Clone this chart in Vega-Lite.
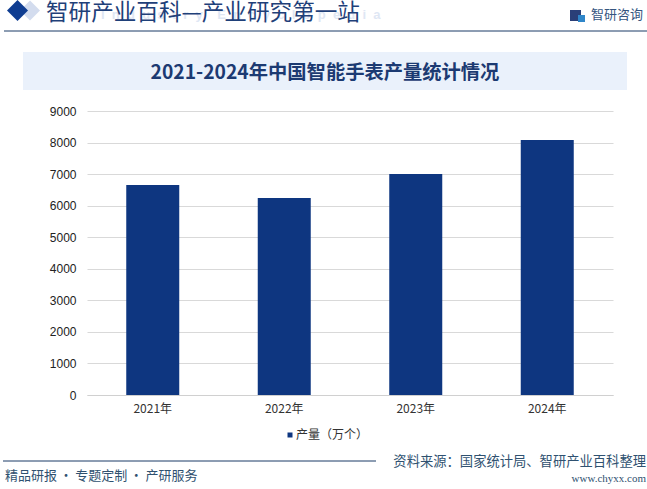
{
"$schema":"https://vega.github.io/schema/vega-lite/v6.json",
"width":526,"height":284,
"padding":{"left":87,"top":111,"right":34,"bottom":94},
"autosize":{"type":"none"},
"background":"white",
"config":{"view":{"stroke":null},"font":"Noto Sans CJK SC"},
"resolve":{"scale":{"x":"independent","y":"independent","color":"independent"}},
"layer":[
{"data":{"values":[{"item":"band"}]},"mark":{"type":"rect","color":"#eaf1fb"},
 "encoding":{"x":{"datum":23,"type":"quantitative","scale":{"domain":[87,613],"zero":false,"nice":false},"axis":null},"x2":{"datum":627},
 "y":{"datum":52,"type":"quantitative","scale":{"domain":[395,111],"zero":false,"nice":false},"axis":null},"y2":{"datum":90}}},
{"data":{"values":[{"item":"headerline"}]},"mark":{"type":"rule","color":"#1b3a66","strokeWidth":1},
 "encoding":{"x":{"datum":4,"type":"quantitative","scale":{"domain":[87,613],"zero":false,"nice":false},"axis":null},"x2":{"datum":647},
 "y":{"datum":31,"type":"quantitative","scale":{"domain":[395,111],"zero":false,"nice":false},"axis":null}}},
{"data":{"values":[{"item":"footerline"}]},"mark":{"type":"rule","color":"#1b3a66","strokeWidth":1},
 "encoding":{"x":{"datum":3,"type":"quantitative","scale":{"domain":[87,613],"zero":false,"nice":false},"axis":null},"x2":{"datum":376},
 "y":{"datum":461,"type":"quantitative","scale":{"domain":[395,111],"zero":false,"nice":false},"axis":null}}},
{"data":{"values":[{"item":"pale"}]},"mark":{"type":"point","shape":"diamond","filled":true,"size":400,"color":"#d3dcee","opacity":1},
 "encoding":{"x":{"datum":30,"type":"quantitative","scale":{"domain":[87,613],"zero":false,"nice":false},"axis":null},
 "y":{"datum":10.5,"type":"quantitative","scale":{"domain":[395,111],"zero":false,"nice":false},"axis":null}}},
{"data":{"values":[{"item":"dark"}]},"mark":{"type":"point","shape":"diamond","filled":true,"size":441,"color":"#0f3d91","opacity":1},
 "encoding":{"x":{"datum":17.5,"type":"quantitative","scale":{"domain":[87,613],"zero":false,"nice":false},"axis":null},
 "y":{"datum":10.5,"type":"quantitative","scale":{"domain":[395,111],"zero":false,"nice":false},"axis":null}}},
{"data":{"values":[{"label":"I\u00a0\u00a0n\u00a0\u00a0d\u00a0\u00a0u\u00a0\u00a0s\u00a0\u00a0t\u00a0\u00a0r\u00a0\u00a0y\u00a0\u00a0\u00a0\u00a0E\u00a0\u00a0n\u00a0\u00a0c\u00a0\u00a0y\u00a0\u00a0c\u00a0\u00a0l\u00a0\u00a0o\u00a0\u00a0p\u00a0\u00a0e\u00a0\u00a0d\u00a0\u00a0i\u00a0\u00a0a"}]},"mark":{"type":"text","align":"left","baseline":"middle","fontSize":13,"font":"Liberation Sans","fontWeight":"bold","color":"#dfe7f4"},
 "encoding":{"text":{"field":"label"},"x":{"datum":101,"type":"quantitative","scale":{"domain":[87,613],"zero":false,"nice":false},"axis":null},
 "y":{"datum":15,"type":"quantitative","scale":{"domain":[395,111],"zero":false,"nice":false},"axis":null}}},
{"data":{"values":[{"label":"智研产业百科—产业研究第一站"}]},"mark":{"type":"text","align":"left","baseline":"middle","fontSize":22.6,"color":"#1f4079"},
 "encoding":{"text":{"field":"label"},"x":{"datum":46,"type":"quantitative","scale":{"domain":[87,613],"zero":false,"nice":false},"axis":null},
 "y":{"datum":13,"type":"quantitative","scale":{"domain":[395,111],"zero":false,"nice":false},"axis":null}}},
{"data":{"values":[{"item":"logo"}]},"mark":{"type":"point","shape":"square","filled":true,"size":121,"color":"#2a3f78","opacity":1},
 "encoding":{"x":{"datum":575.5,"type":"quantitative","scale":{"domain":[87,613],"zero":false,"nice":false},"axis":null},
 "y":{"datum":15.5,"type":"quantitative","scale":{"domain":[395,111],"zero":false,"nice":false},"axis":null}}},
{"data":{"values":[{"item":"logo2"}]},"mark":{"type":"point","shape":"square","filled":true,"size":49,"color":"#2f86c9","opacity":1},
 "encoding":{"x":{"datum":581.5,"type":"quantitative","scale":{"domain":[87,613],"zero":false,"nice":false},"axis":null},
 "y":{"datum":18.5,"type":"quantitative","scale":{"domain":[395,111],"zero":false,"nice":false},"axis":null}}},
{"data":{"values":[{"label":"智研咨询"}]},"mark":{"type":"text","align":"left","baseline":"middle","fontSize":13,"color":"#35557f"},
 "encoding":{"text":{"field":"label"},"x":{"datum":591,"type":"quantitative","scale":{"domain":[87,613],"zero":false,"nice":false},"axis":null},
 "y":{"datum":15,"type":"quantitative","scale":{"domain":[395,111],"zero":false,"nice":false},"axis":null}}},
{"data":{"values":[{"label":"2021-2024年中国智能手表产量统计情况"}]},"mark":{"type":"text","align":"center","baseline":"middle","fontSize":19.3,"fontWeight":"bold","color":"#1c3a72"},
 "encoding":{"text":{"field":"label"},"x":{"datum":325,"type":"quantitative","scale":{"domain":[87,613],"zero":false,"nice":false},"axis":null},
 "y":{"datum":73,"type":"quantitative","scale":{"domain":[395,111],"zero":false,"nice":false},"axis":null}}},
{"data":{"values":[{"label":"精品研报\u2009·\u2009专题定制\u2009·\u2009产研服务"}]},"mark":{"type":"text","align":"left","baseline":"middle","fontSize":13,"color":"#2f5170"},
 "encoding":{"text":{"field":"label"},"x":{"datum":5,"type":"quantitative","scale":{"domain":[87,613],"zero":false,"nice":false},"axis":null},
 "y":{"datum":476,"type":"quantitative","scale":{"domain":[395,111],"zero":false,"nice":false},"axis":null}}},
{"data":{"values":[{"label":"资料来源：国家统计局、智研产业百科整理"}]},"mark":{"type":"text","align":"right","baseline":"middle","fontSize":13.3,"color":"#2f5170"},
 "encoding":{"text":{"field":"label"},"x":{"datum":646,"type":"quantitative","scale":{"domain":[87,613],"zero":false,"nice":false},"axis":null},
 "y":{"datum":462,"type":"quantitative","scale":{"domain":[395,111],"zero":false,"nice":false},"axis":null}}},
{"data":{"values":[{"label":"www.chyxx.com"}]},"mark":{"type":"text","align":"right","baseline":"middle","fontSize":11,"font":"Liberation Serif","color":"#2f5170"},
 "encoding":{"text":{"field":"label"},"x":{"datum":646,"type":"quantitative","scale":{"domain":[87,613],"zero":false,"nice":false},"axis":null},
 "y":{"datum":479,"type":"quantitative","scale":{"domain":[395,111],"zero":false,"nice":false},"axis":null}}},
{"data":{"values":[
 {"year":"2021年","output":6655,"series":"产量（万个）"},
 {"year":"2022年","output":6243,"series":"产量（万个）"},
 {"year":"2023年","output":7003,"series":"产量（万个）"},
 {"year":"2024年","output":8081,"series":"产量（万个）"}]},
 "mark":{"type":"bar","width":53},
 "encoding":{
 "x":{"field":"year","type":"nominal","title":null,"scale":{"paddingInner":0.6,"paddingOuter":0.3},
  "axis":{"labelAngle":0,"labelFont":"Noto Sans CJK SC","labelFontSize":12,"labelColor":"#333333","domainColor":"#d0d0d0","ticks":false,"labelPadding":8,"grid":false}},
 "y":{"field":"output","type":"quantitative","title":null,"scale":{"domain":[0,9000],"nice":false},
  "axis":{"values":[0,1000,2000,3000,4000,5000,6000,7000,8000,9000],"labelFont":"Liberation Sans","labelFontSize":12,"labelColor":"#222222","domain":false,"ticks":false,"labelPadding":11,"grid":true,"gridColor":"#d9d9d9","format":"d"}},
 "color":{"field":"series","type":"nominal","scale":{"range":["#0e3680"]},
  "legend":{"title":null,"orient":"none","legendX":197,"legendY":318,"symbolType":"square","symbolSize":25,"labelFont":"Noto Sans CJK SC","labelFontSize":12,"labelColor":"#333333","labelOffset":0}}
 }}
]
}
